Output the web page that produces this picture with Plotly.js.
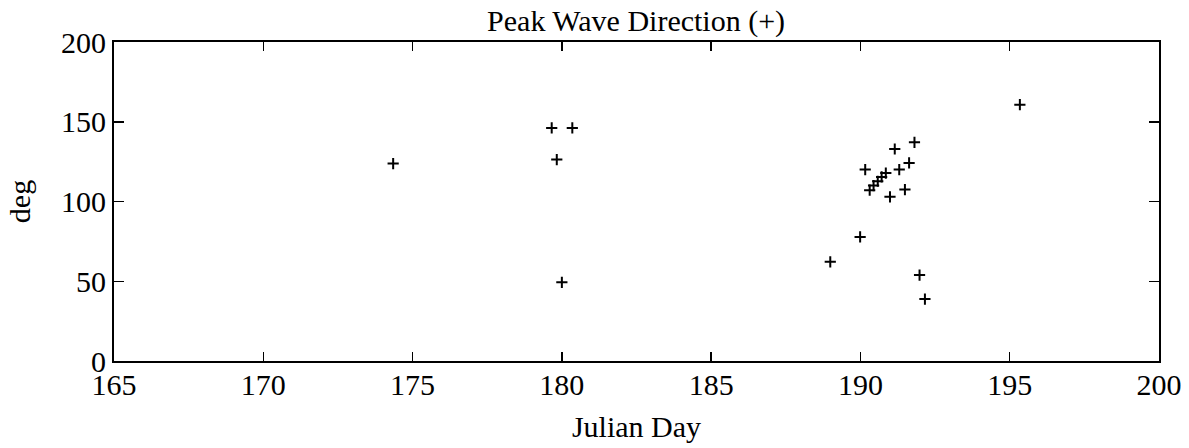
<!DOCTYPE html>
<html>
<head>
<meta charset="utf-8">
<script src="https://cdn.plot.ly/plotly-3.0.1.min.js"></script>
<style>html,body{margin:0;padding:0;background:#fff;}#chart{width:1189px;height:448px;}</style>
</head>
<body>
<div id="chart"></div>
<script>
var julianDay = [174.35, 179.66, 180.35, 179.83, 180.0, 188.99, 189.99, 190.16, 190.31, 190.44, 190.58, 190.71, 190.85, 190.99, 191.15, 191.30, 191.49, 191.63, 191.81, 191.98, 192.16, 195.34];
var peakDirection = [123.8, 146.1, 146.1, 126.3, 49.3, 62.2, 77.8, 120.0, 107.1, 110.0, 112.7, 115.4, 117.8, 102.9, 132.9, 120.0, 107.5, 124.2, 137.1, 53.9, 38.8, 160.7];
var xTicks = [165, 170, 175, 180, 185, 190, 195, 200];
var yTicks = [0, 50, 100, 150, 200];

var font = {family: '"Liberation Serif", "DejaVu Serif", serif', color: '#000'};

var trace = {
  x: julianDay, y: peakDirection, type: 'scatter', mode: 'markers',
  marker: {symbol: 'cross-thin-open', size: 8, color: '#000', line: {color: '#000', width: 2}},
  showlegend: false, hoverinfo: 'skip'
};

var layout = {
  width: 1189, height: 448,
  margin: {l: 114, r: 30, t: 42, b: 87},
  paper_bgcolor: '#fff', plot_bgcolor: '#fff',
  font: Object.assign({size: 30}, font),
  title: {text: 'Peak Wave Direction (+)', font: Object.assign({size: 30}, font), x: 0.535, xanchor: 'center', y: 0.955, yanchor: 'middle'},
  xaxis: {
    range: [165, 200], tickvals: xTicks, ticktext: xTicks.map(String),
    ticks: 'inside', ticklen: 9, tickwidth: 1.5, tickcolor: '#000',
    ticklabelstandoff: -4,
    showline: true, linecolor: '#000', linewidth: 2, mirror: 'ticks',
    showgrid: false, zeroline: false,
    tickfont: Object.assign({size: 30}, font),
    title: {text: 'Julian Day', font: Object.assign({size: 30}, font), standoff: 16}
  },
  yaxis: {
    range: [0, 200], tickvals: yTicks, ticktext: yTicks.map(String),
    ticks: 'inside', ticklen: 10, tickwidth: 1.5, tickcolor: '#000',
    showline: true, linecolor: '#000', linewidth: 2, mirror: 'ticks',
    showgrid: false, zeroline: false,
    tickfont: Object.assign({size: 30}, font),
    title: {text: 'deg', font: Object.assign({size: 30}, font), standoff: 22}
  }
};

Plotly.newPlot('chart', [trace], layout, {staticPlot: true, displayModeBar: false});
</script>
</body>
</html>
